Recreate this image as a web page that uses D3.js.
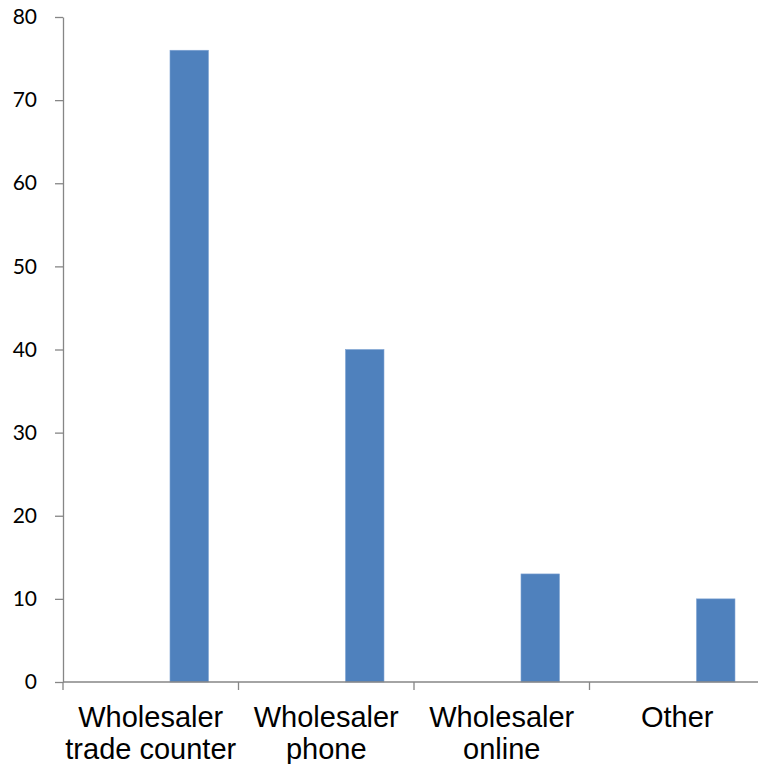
<!DOCTYPE html>
<html>
<head>
<meta charset="utf-8">
<script src="https://cdn.jsdelivr.net/npm/d3@7"></script>
<style>
  html, body { margin: 0; padding: 0; background: #fff; }
  svg { display: block; }
</style>
</head>
<body>
<svg id="chart" width="758" height="764"></svg>
<script>
const categories = ["Wholesaler trade counter", "Wholesaler phone", "Wholesaler online", "Other"];
const categoryLines = [["Wholesaler", "trade counter"], ["Wholesaler", "phone"], ["Wholesaler", "online"], ["Other"]];
const values = [76, 40, 13, 10];
const seriesSlots = ["s1", "s2", "s3"]; // values drawn in third slot
const shownSeries = "s3";
const yTicks = [0, 10, 20, 30, 40, 50, 60, 70, 80];

const svg = d3.select("#chart");
const left = 63, zeroY = 682, topY = 17, catStep = 175.5;

const x = d3.scaleBand().domain(categories).range([left, left + catStep * categories.length]).padding(0);
const xs = d3.scaleBand().domain(seriesSlots).range([0, x.bandwidth()]).paddingInner(0).paddingOuter(0.78);
const y = d3.scaleLinear().domain([0, 80]).range([zeroY, topY]);

const axisColor = "#868686";

// bars
svg.append("g").selectAll("rect").data(values).join("rect")
  .attr("x", (d, i) => x(categories[i]) + xs(shownSeries))
  .attr("y", d => y(d))
  .attr("width", xs.bandwidth())
  .attr("height", d => y(0) - y(d))
  .attr("fill", "#4F81BD")
  .attr("stroke", "#7FA3D3")
  .attr("stroke-width", 0.6);

// y axis
const yAxis = d3.axisLeft(y).tickValues(yTicks).tickSize(8).tickPadding(18).tickSizeOuter(0);
const gy = svg.append("g").attr("transform", `translate(${left},0)`).call(yAxis);
gy.select(".domain").attr("stroke", axisColor).attr("stroke-width", 1.3);
gy.selectAll(".tick line").attr("stroke", axisColor).attr("stroke-width", 1.3);
gy.selectAll(".tick text").attr("font-family", "Lato, 'Open Sans', sans-serif").attr("font-size", 21).attr("fill", "#000");

// x axis line
svg.append("line").attr("x1", left).attr("x2", 758).attr("y1", zeroY).attr("y2", zeroY)
  .attr("stroke", axisColor).attr("stroke-width", 1.3);
// x ticks at category boundaries
const bounds = categories.map(c => x(c));
svg.append("g").selectAll("line").data(bounds).join("line")
  .attr("x1", d => d).attr("x2", d => d).attr("y1", zeroY).attr("y2", zeroY + 8)
  .attr("stroke", axisColor).attr("stroke-width", 1.3);

// category labels
const lab = svg.append("g").attr("font-family", "'Liberation Sans', Arial, sans-serif").attr("font-size", 29).attr("fill", "#000").attr("text-anchor", "middle");
categories.forEach((c, i) => {
  const t = lab.append("text").attr("x", x(c) + x.bandwidth() / 2).attr("y", 727);
  categoryLines[i].forEach((ln, j) => {
    t.append("tspan").attr("x", x(c) + x.bandwidth() / 2).attr("dy", j === 0 ? 0 : 31.5).text(ln);
  });
});
</script>
</body>
</html>
